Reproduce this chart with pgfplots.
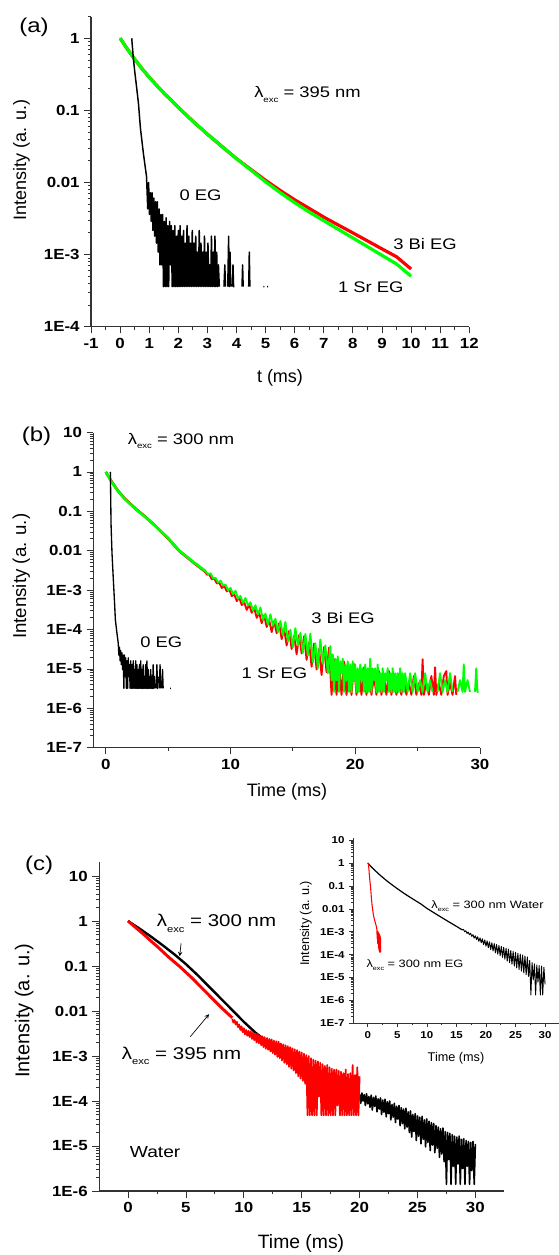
\documentclass[border=0pt]{standalone}
\usepackage{fontspec}
\setmainfont{Liberation Sans}
\newfontfamily\annot[FakeStretch=1.2]{Liberation Sans}
\newfontfamily\tickf[FakeStretch=1.15]{Liberation Sans}
\usepackage{pgfplots}
\pgfplotsset{compat=1.18}

\newcommand{\fs}[1]{\fontsize{#1}{#1}\selectfont}
% lambda with the small, lowered "exc" subscript
\newcommand{\lexc}[2]{λ\raisebox{-#2}{\fs{#1}exc}}

\pgfplotsset{every axis/.append style={scale only axis, anchor=south west,
    axis lines=left, axis line style={-, line width=0.8pt, black!80},
    tick align=outside, major tick length=5pt, minor tick length=2.5pt,
    tick style={black!80, line width=0.6pt},
    enlargelimits=false, clip=false, unbounded coords=jump,
    tick label style={font=\tickf\fs{11}\bfseries}}}

\begin{document}
\begin{tikzpicture}
\useasboundingbox (0,0) rectangle (419.25pt,-941.25pt);

% ---------------- (a) lambda_exc = 395 nm ----------------
\begin{semilogyaxis}[at={(68.25pt,-245.03pt)}, width=283.7pt, height=232.6pt,
  xmin=-1, xmax=12, ymin=1e-4, ymax=2,
  xtick={-1,0,...,12}, xticklabels={-1,0,1,2,3,4,5,6,7,8,9,10,11,12},
  minor x tick num=1,
  ytick={1e-4,1e-3,0.01,0.1,1}, yticklabels={1E-4,1E-3,0.01,0.1,1},
  minor ytick={2e-4,3e-4,4e-4,5e-4,6e-4,7e-4,8e-4,9e-4,2e-3,3e-3,4e-3,5e-3,6e-3,7e-3,8e-3,9e-3,0.02,0.03,0.04,0.05,0.06,0.07,0.08,0.09,0.2,0.3,0.4,0.5,0.6,0.7,0.8,0.9,2}]
\addplot[red, line width=2.4pt, line join=round] coordinates {
  (0,1)(0.25,0.708)(0.5,0.513)(0.75,0.380)(1,0.288)(1.5,0.174)(2,0.110)
  (2.5,0.0708)(3,0.0468)(3.5,0.0316)(4,0.0214)(4.5,0.0151)(5,0.0107)
  (5.5,0.00776)(6,0.00575)(6.5,0.00437)(7,0.00331)(7.5,0.00257)(8,0.00200)
  (8.5,0.00155)(9,0.00120)(9.5,0.000933)(10,0.000631)};
\addplot[green, line width=2.4pt, line join=round] coordinates {
  (0,1)(0.25,0.708)(0.5,0.513)(0.75,0.380)(1,0.288)(1.5,0.174)(2,0.110)
  (2.5,0.0708)(3,0.0468)(3.5,0.0316)(4,0.0214)(4.5,0.0148)(5,0.0102)
  (5.5,0.00724)(6,0.00525)(6.5,0.00389)(7,0.00295)(7.5,0.00224)(8,0.00170)
  (8.5,0.00129)(9,0.000977)(9.5,0.000741)(10,0.000501)};
\addplot[black, line width=1.1pt, line join=round] coordinates {
  (0.40,1)(0.45,0.556)(0.50,0.355)(0.55,0.240)(0.63,0.126)(0.70,0.056)
  (0.80,0.0254)(0.85,0.018)(0.91,0.012)
  (0.92,9e-3)(0.95,4.3e-3)(0.98,1.0e-2)(1.01,3.6e-3)(1.04,7.2e-3)(1.07,2.88e-3)
  (1.10,7.2e-3)(1.13,2.16e-3)(1.16,6.1e-3)(1.19,1.8e-3)(1.22,5.4e-3)(1.25,1.44e-3)
  (1.28,5.4e-3)(1.31,1.08e-3)(1.34,4.3e-3)(1.37,7.2e-4)(1.40,3.6e-3)(1.43,7.2e-4)
  (1.46,3.6e-3)(1.49,3.6e-4)(1.52,2.88e-3)(1.55,3.6e-4)(1.58,3.24e-3)(1.61,3.6e-4)
  (1.64,2.52e-3)(1.67,3.6e-4)(1.70,2.88e-3)(1.73,7.2e-4)(1.76,2.52e-3)(1.79,3.6e-4)
  (1.82,2.16e-3)(1.85,3.6e-4)(1.88,2.52e-3)(1.91,3.6e-4)(1.94,1.8e-3)(1.97,3.6e-4)
  (2.00,2.16e-3)(2.03,3.6e-4)(2.06,2.52e-3)(2.09,3.6e-4)(2.12,1.8e-3)(2.15,3.6e-4)
  (2.18,2.16e-3)(2.21,3.6e-4)(2.24,1.44e-3)(2.27,3.6e-4)(2.30,2.52e-3)(2.33,3.6e-4)
  (2.36,1.8e-3)(2.39,3.6e-4)(2.42,1.44e-3)(2.45,3.6e-4)(2.48,2.16e-3)(2.51,3.6e-4)
  (2.54,1.44e-3)(2.57,3.6e-4)(2.60,1.8e-3)(2.63,3.6e-4)(2.66,1.08e-3)(2.69,3.6e-4)
  (2.72,2.16e-3)(2.75,3.6e-4)(2.78,1.44e-3)(2.81,3.6e-4)(2.84,1.08e-3)(2.87,3.6e-4)
  (2.90,1.8e-3)(2.93,3.6e-4)(2.96,1.08e-3)(2.99,3.6e-4)(3.02,1.44e-3)(3.05,3.6e-4)
  (3.08,7.2e-4)(3.11,3.6e-4)(3.14,1.8e-3)(3.17,3.6e-4)(3.20,1.08e-3)(3.23,3.6e-4)
  (3.26,1.8e-3)(3.29,3.6e-4)(3.32,1.08e-3)(3.35,3.6e-4)(3.38,7.2e-4)(3.41,3.6e-4)
  (3.44,nan)(3.57,3.6e-4)(3.60,7.2e-4)(3.62,3.6e-4)(3.64,nan)
  (3.70,3.6e-4)(3.73,1.8e-3)(3.75,3.6e-4)(3.78,1.08e-3)(3.80,3.6e-4)(3.82,nan)
  (3.86,3.6e-4)(3.88,7.2e-4)(3.90,3.6e-4)(3.93,3.6e-4)(3.95,nan)
  (4.19,3.6e-4)(4.21,7.2e-4)(4.23,3.6e-4)(4.25,nan)
  (4.42,3.6e-4)(4.44,1.08e-3)(4.46,3.6e-4)(4.48,nan)
  (4.92,3.6e-4)(4.96,3.6e-4)(4.98,nan)(5.05,3.6e-4)(5.09,3.6e-4)};
\node[anchor=base west, font=\annot\fs{11.5}] at (axis cs:4.45,0.15) {\lexc{6}{3.4pt} = 395 nm};
\node[anchor=base west, font=\annot\fs{11.5}] at (axis cs:1.88,5.6e-3) {0 EG};
\node[anchor=base west, font=\annot\fs{11.5}] at (axis cs:9.23,1.16e-3) {3 Bi EG};
\node[anchor=base west, font=\annot\fs{11.5}] at (axis cs:7.33,2.96e-4) {1 Sr EG};
\end{semilogyaxis}
\node[font=\annot\fs{15}] at (25.5pt,-20.25pt) {(a)};
\node[font=\fs{13.5}, rotate=90] at (16.05pt,-120pt) {Intensity (a. u.)};
\node[font=\fs{13.5}] at (210pt,-283.5pt) {t (ms)};

% ---------------- (b) lambda_exc = 300 nm ----------------
\begin{semilogyaxis}[at={(69.98pt,-560.78pt)}, width=290pt, height=236.4pt,
  xmin=-1, xmax=30, ymin=1e-7, ymax=10,
  xtick={0,10,20,30}, xticklabels={0,10,20,30}, minor x tick num=1,
  ytick={1e-7,1e-6,1e-5,1e-4,1e-3,0.01,0.1,1,10},
  yticklabels={1E-7,1E-6,1E-5,1E-4,1E-3,0.01,0.1,1,10},
  minor ytick={2e-7,3e-7,4e-7,5e-7,6e-7,7e-7,8e-7,9e-7,2e-6,3e-6,4e-6,5e-6,6e-6,7e-6,8e-6,9e-6,2e-5,3e-5,4e-5,5e-5,6e-5,7e-5,8e-5,9e-5,2e-4,3e-4,4e-4,5e-4,6e-4,7e-4,8e-4,9e-4,2e-3,3e-3,4e-3,5e-3,6e-3,7e-3,8e-3,9e-3,0.02,0.03,0.04,0.05,0.06,0.07,0.08,0.09,0.2,0.3,0.4,0.5,0.6,0.7,0.8,0.9,2,3,4,5,6,7,8,9}]
\addplot[red, line width=2pt, line join=round] coordinates {
  (0,1)(0.25,0.74)(0.5,0.55)(1,0.325)(1.5,0.215)(2,0.152)(2.6,0.102)(3,0.081)
  (4,0.042)(5,0.0204)(5.9,0.0098)(7,0.0051)(8,0.0029)};
\addplot[red, line width=1.4pt, line join=round] coordinates {
  (8.0,2.9e-3)(8.1,2.47e-3)(8.3,2.51e-3)(8.5,1.88e-3)(8.7,2.0e-3)(8.9,1.48e-3)
  (9.1,1.54e-3)(9.3,1.13e-3)(9.5,1.28e-3)(9.7,9.3e-4)(9.9,1.04e-3)(10.1,7.05e-4)
  (10.3,7.9e-4)(10.5,5.25e-4)(10.7,6.5e-4)(10.9,4.17e-4)(11.1,4.93e-4)(11.3,3.15e-4)
  (11.5,4.26e-4)(11.7,2.66e-4)(11.9,3.54e-4)(12.1,1.98e-4)(12.3,2.67e-4)(12.5,1.45e-4)
  (12.7,2.27e-4)(12.9,1.16e-4)(13.1,1.74e-4)(13.3,8.6e-5)(13.5,1.63e-4)(13.7,8.0e-5)
  (13.9,1.44e-4)(14.1,5.7e-5)(14.3,1.04e-4)(14.5,3.94e-5)(14.7,9.2e-5)(14.9,3.2e-5)
  (15.1,6.9e-5)(15.3,2.36e-5)(15.5,7.2e-5)(15.7,2.47e-5)(15.9,6.8e-5)(16.1,1.7e-5)
  (16.3,4.7e-5)(16.5,1.14e-5)(16.7,4.4e-5)(16.9,9.7e-6)(17.1,3.2e-5)(17.3,7.0e-6)
  (17.5,3.6e-5)(17.7,8.3e-6)(17.9,3.47e-5)(18.1,2.2e-6)
  (18.3,1.76e-5)(18.5,2.2e-6)(18.7,1.32e-5)(18.9,2.2e-6)(19.1,1.54e-5)(19.3,2.2e-6)
  (19.5,1.1e-5)(19.7,2.2e-6)(19.9,1.32e-5)(20.1,2.2e-6)(20.3,8.8e-6)(20.5,2.2e-6)
  (20.7,1.1e-5)(20.9,2.2e-6)(21.1,8.8e-6)(21.3,2.2e-6)(21.5,6.6e-6)(21.7,2.2e-6)
  (21.9,8.8e-6)(22.1,2.2e-6)(22.3,6.6e-6)(22.5,2.2e-6)(22.7,8.8e-6)(22.9,2.2e-6)
  (23.1,6.6e-6)(23.3,2.2e-6)(23.5,4.4e-6)(23.7,2.2e-6)(23.9,6.6e-6)(24.1,2.2e-6)
  (24.3,4.4e-6)(24.5,2.2e-6)(24.7,6.6e-6)(24.9,2.2e-6)(25.1,4.4e-6)(25.3,2.2e-6)
  (25.4,1.76e-5)(25.5,2.2e-6)(25.7,4.4e-6)(25.9,2.2e-6)(26.1,6.6e-6)(26.3,2.2e-6)
  (26.4,1.1e-5)(26.5,2.2e-6)(26.7,4.4e-6)(26.9,2.2e-6)(27.1,6.6e-6)(27.3,8.8e-6)
  (27.4,2.2e-6)(27.6,4.4e-6)(27.8,2.2e-6)(28.0,6.6e-6)(28.1,2.2e-6)};
\addplot[green, line width=2pt, line join=round] coordinates {
  (0,1)(0.25,0.724)(0.5,0.537)(1,0.316)(1.5,0.209)(2,0.148)(2.6,0.1)(3,0.0794)
  (4,0.0417)(5,0.0209)(5.9,0.01)(7,0.00525)(8,0.00302)};
\addplot[green, line width=1.4pt, line join=round] coordinates {
  (8.0,3.02e-3)(8.2,2.53e-3)(8.4,2.68e-3)(8.6,1.97e-3)(8.8,2.05e-3)(9.0,1.55e-3)
  (9.2,1.74e-3)(9.4,1.30e-3)(9.6,1.38e-3)(9.8,9.9e-4)(10.0,1.14e-3)(10.2,7.9e-4)
  (10.4,9.6e-4)(10.6,6.05e-4)(10.8,7.1e-4)(11.0,4.68e-4)(11.2,6.28e-4)(11.4,4.1e-4)
  (11.6,4.92e-4)(11.8,3.0e-4)(12.0,4.13e-4)(12.2,2.41e-4)(12.4,3.63e-4)(12.6,1.76e-4)
  (12.8,2.54e-4)(13.0,1.32e-4)(13.2,2.44e-4)(13.4,1.25e-4)(13.6,1.88e-4)(13.8,8.6e-5)
  (14.0,1.65e-4)(14.2,7.1e-5)(14.4,1.56e-4)(14.6,4.9e-5)(14.8,9.9e-5)(15.0,3.55e-5)
  (15.2,1.08e-4)(15.4,3.92e-5)(15.6,8.2e-5)(15.8,2.55e-5)(16.0,7.7e-5)(16.2,2.18e-5)
  (16.4,7.9e-5)(16.6,1.46e-5)(16.8,4.5e-5)(17.0,1.05e-5)(17.2,5.6e-5)(17.4,1.35e-5)
  (17.6,3.98e-5)(17.8,7.8e-6)(18.0,3.8e-5)
  (18.1,5.2e-6)(18.2,2.34e-5)(18.3,2.6e-6)(18.4,1.82e-5)(18.5,5.2e-6)(18.6,2.08e-5)
  (18.7,2.6e-6)(18.8,1.56e-5)(18.9,7.8e-6)(19.0,1.82e-5)(19.1,2.6e-6)(19.2,1.3e-5)
  (19.3,5.2e-6)(19.4,1.56e-5)(19.5,2.6e-6)(19.6,1.3e-5)(19.7,2.6e-6)(19.8,1.56e-5)
  (19.9,5.2e-6)(20.0,1.3e-5)(20.1,2.6e-6)(20.2,1.04e-5)(20.3,2.6e-6)(20.4,1.3e-5)
  (20.5,5.2e-6)(20.6,1.04e-5)(20.7,2.6e-6)(20.8,1.3e-5)(20.9,2.6e-6)(21.0,1.04e-5)
  (21.1,2.6e-6)(21.2,1.82e-5)(21.3,2.6e-6)(21.4,1.04e-5)(21.5,5.2e-6)(21.6,1.04e-5)
  (21.7,2.6e-6)(21.8,1.3e-5)(21.9,2.6e-6)(22.0,7.8e-6)(22.1,2.6e-6)(22.2,1.04e-5)
  (22.3,2.6e-6)(22.4,7.8e-6)(22.5,5.2e-6)(22.6,1.04e-5)(22.7,2.6e-6)(22.8,7.8e-6)
  (22.9,2.6e-6)(23.0,1.04e-5)(23.1,2.6e-6)(23.2,7.8e-6)(23.3,2.6e-6)(23.4,7.8e-6)
  (23.5,2.6e-6)(23.6,1.04e-5)(23.7,2.6e-6)(23.8,7.8e-6)(23.9,2.6e-6)(24.0,7.8e-6)
  (24.2,2.6e-6)(24.4,7.8e-6)(24.6,2.6e-6)(24.8,7.8e-6)(25.0,2.6e-6)(25.2,5.2e-6)
  (25.4,2.6e-6)(25.6,7.8e-6)(25.8,2.6e-6)(26.0,5.2e-6)(26.2,2.6e-6)(26.4,nan)
  (26.6,2.6e-6)(26.8,7.8e-6)(27.0,2.6e-6)(27.2,5.2e-6)(27.4,2.6e-6)(27.6,7.8e-6)
  (27.8,2.6e-6)(28.0,nan)(28.2,2.6e-6)(28.4,5.2e-6)(28.6,2.6e-6)(28.7,1.3e-5)
  (28.8,2.6e-6)(29.0,5.2e-6)(29.2,2.6e-6)(29.4,nan)(29.6,2.6e-6)(29.7,1.04e-5)
  (29.8,2.6e-6)(29.9,2.6e-6)};
\addplot[black, line width=1pt, line join=round] coordinates {
  (0.37,1)(0.42,0.05)(0.46,0.02)(0.5,0.0085)(0.6,2.0e-3)(0.7,5.0e-4)(0.77,1.74e-4)
  (0.9,7.9e-5)(1.0,4.5e-5)
  (1.05,2.24e-5)(1.10,3.52e-5)(1.15,1.6e-5)(1.20,2.88e-5)(1.25,1.28e-5)(1.30,2.56e-5)
  (1.35,9.6e-6)(1.40,2.24e-5)(1.45,3.2e-6)(1.50,2.24e-5)(1.55,6.4e-6)(1.60,1.92e-5)
  (1.65,3.2e-6)(1.70,1.6e-5)(1.75,3.2e-6)(1.80,1.92e-5)(1.85,6.4e-6)(1.90,1.28e-5)
  (1.95,3.2e-6)(2.00,1.6e-5)(2.05,3.2e-6)(2.10,1.28e-5)(2.15,3.2e-6)(2.20,1.6e-5)
  (2.25,3.2e-6)(2.30,9.6e-6)(2.35,3.2e-6)(2.40,1.6e-5)(2.45,3.2e-6)(2.50,1.28e-5)
  (2.55,3.2e-6)(2.60,9.6e-6)(2.65,3.2e-6)(2.70,1.28e-5)(2.75,3.2e-6)(2.80,1.6e-5)
  (2.85,3.2e-6)(2.90,9.6e-6)(2.95,3.2e-6)(3.00,1.28e-5)(3.05,3.2e-6)(3.10,6.4e-6)
  (3.15,3.2e-6)(3.20,1.28e-5)(3.25,3.2e-6)(3.30,1.6e-5)(3.35,3.2e-6)(3.40,9.6e-6)
  (3.45,3.2e-6)(3.50,6.4e-6)(3.55,3.2e-6)(3.60,9.6e-6)(3.65,3.2e-6)(3.70,6.4e-6)
  (3.75,3.2e-6)(3.80,1.28e-5)(3.85,3.2e-6)(3.90,6.4e-6)(3.95,3.2e-6)(4.00,nan)
  (4.05,3.2e-6)(4.10,1.28e-5)(4.15,3.2e-6)(4.20,6.4e-6)(4.25,nan)(4.30,3.2e-6)
  (4.35,1.28e-5)(4.40,3.2e-6)(4.45,nan)(4.50,3.2e-6)(4.55,9.6e-6)(4.60,3.2e-6)
  (4.65,nan)(5.15,3.2e-6)(5.22,3.2e-6)};
\node[anchor=base west, font=\annot\fs{11.5}] at (axis cs:1.39,5.0) {\lexc{6}{3.4pt} = 300 nm};
\node[anchor=base west, font=\annot\fs{11.5}] at (axis cs:2.39,3.53e-5) {0 EG};
\node[anchor=base west, font=\annot\fs{11.5}] at (axis cs:16.1,1.44e-4) {3 Bi EG};
\node[anchor=base west, font=\annot\fs{11.5}] at (axis cs:10.52,5.77e-6) {1 Sr EG};
\end{semilogyaxis}
\node[font=\annot\fs{15}] at (27.4pt,-327.5pt) {(b)};
\node[font=\fs{14}, rotate=90] at (16.05pt,-432.2pt) {Intensity (a. u.)};
\node[font=\fs{13.5}] at (215.25pt,-593.8pt) {Time (ms)};

% ---------------- (c) water ----------------
\begin{semilogyaxis}[at={(74.33pt,-893.25pt)}, width=303.9pt, height=246.4pt,
  xmin=-2.5, xmax=32.5, ymin=1e-6, ymax=20,
  xtick={0,5,...,30}, xticklabels={0,5,10,15,20,25,30}, minor x tick num=1,
  ytick={1e-6,1e-5,1e-4,1e-3,0.01,0.1,1,10},
  yticklabels={1E-6,1E-5,1E-4,1E-3,0.01,0.1,1,10},
  minor ytick={2e-6,3e-6,4e-6,5e-6,6e-6,7e-6,8e-6,9e-6,2e-5,3e-5,4e-5,5e-5,6e-5,7e-5,8e-5,9e-5,2e-4,3e-4,4e-4,5e-4,6e-4,7e-4,8e-4,9e-4,2e-3,3e-3,4e-3,5e-3,6e-3,7e-3,8e-3,9e-3,0.02,0.03,0.04,0.05,0.06,0.07,0.08,0.09,0.2,0.3,0.4,0.5,0.6,0.7,0.8,0.9,2,3,4,5,6,7,8,9}]
\addplot[black, line width=1.8pt, line join=round] coordinates {
  (0,1)(1,0.676)(2,0.447)(3,0.288)(4,0.182)(5,0.110)(6,0.0631)(7,0.0347)
  (8,0.0191)(9,0.0105)(10,0.00575)(11,0.00331)(12,0.00209)};
\addplot[black, line width=1.2pt, line join=round] coordinates {
  (12,2.09e-3)(12.25,1.66e-3)(12.5,1.62e-3)(12.75,1.35e-3)(13,1.32e-3)(13.5,1.02e-3)
  (14,9.12e-4)(14.5,7.08e-4)(15,6.46e-4)(15.5,5.01e-4)(16,4.57e-4)(16.5,3.55e-4)
  (17,3.24e-4)(17.5,2.51e-4)(18,2.29e-4)(18.5,1.78e-4)(19,1.62e-4)(19.5,1.26e-4)
  (19.8,1.41e-4)
  (20.0,1.41e-4)(20.1,8.91e-5)(20.2,1.51e-4)(20.3,1.0e-4)(20.4,1.38e-4)(20.5,7.94e-5)
  (20.6,1.45e-4)(20.7,8.71e-5)(20.8,1.26e-4)(20.9,7.24e-5)(21.0,1.35e-4)(21.1,6.31e-5)
  (21.2,1.20e-4)(21.3,7.59e-5)(21.4,1.29e-4)(21.5,5.75e-5)(21.6,1.12e-4)(21.7,6.61e-5)
  (21.8,1.17e-4)(21.9,5.01e-5)(22.0,1.05e-4)(22.1,5.62e-5)(22.2,1.10e-4)(22.3,4.47e-5)
  (22.4,9.55e-5)(22.5,5.25e-5)(22.6,1.0e-4)(22.7,3.80e-5)(22.8,8.32e-5)(22.9,4.37e-5)
  (23.0,8.91e-5)(23.1,3.31e-5)(23.2,7.59e-5)(23.3,3.98e-5)(23.4,7.94e-5)(23.5,2.82e-5)
  (23.6,7.08e-5)(23.7,3.16e-5)(23.8,6.61e-5)(23.9,2.40e-5)(24.0,6.92e-5)(24.1,2.63e-5)
  (24.2,5.75e-5)(24.3,2.0e-5)(24.4,6.03e-5)(24.5,1.58e-5)(24.6,5.01e-5)(24.7,2.09e-5)
  (24.8,5.25e-5)(24.9,1.32e-5)(25.0,4.68e-5)(25.1,1.66e-5)(25.2,4.37e-5)(25.3,1.12e-5)
  (25.4,4.57e-5)(25.5,1.41e-5)(25.6,3.80e-5)(25.7,9.55e-6)(25.8,3.98e-5)(25.9,1.20e-5)
  (26.0,3.55e-5)(26.1,7.94e-6)(26.2,3.31e-5)(26.3,1.05e-5)(26.4,3.16e-5)(26.5,7.08e-6)
  (26.6,2.82e-5)(26.7,8.91e-6)(26.8,2.63e-5)(26.9,5.62e-6)(27.0,2.40e-5)(27.1,6.61e-6)
  (27.2,2.51e-5)(27.3,4.47e-6)(27.4,2.09e-5)(27.5,1.41e-6)(27.6,2.0e-5)(27.7,5.01e-6)
  (27.8,1.91e-5)(27.9,1.41e-6)(28.0,1.78e-5)(28.1,3.55e-6)(28.2,1.66e-5)(28.3,1.41e-6)
  (28.4,1.58e-5)(28.5,3.98e-6)(28.6,1.66e-5)(28.7,1.41e-6)(28.8,1.41e-5)(28.9,3.16e-6)
  (29.0,1.45e-5)(29.1,1.41e-6)(29.2,1.32e-5)(29.3,3.55e-6)(29.4,1.26e-5)(29.5,1.41e-6)
  (29.6,1.20e-5)(29.7,2.82e-6)(29.8,1.26e-5)(29.9,1.41e-6)(30.0,1.12e-5)};
\addplot[red, line width=2.2pt, line join=round] coordinates {
  (0,1)(0.5,0.776)(1,0.603)(1.5,0.468)(2,0.355)(2.5,0.275)(3,0.209)(3.5,0.158)
  (4,0.123)(4.5,0.0955)(5,0.0724)(5.5,0.0550)(6,0.0407)(6.5,0.0302)(7,0.0224)
  (7.5,0.0166)(8,0.0123)(8.5,0.00933)(9,0.00708)};
\addplot[red, line width=1.3pt, line join=round] coordinates {
  (9.0,6.76e-3)(9.1,5.5e-3)(9.2,6.31e-3)(9.3,5.01e-3)(9.4,5.75e-3)(9.5,4.37e-3)
  (9.6,5.01e-3)(9.7,3.80e-3)(9.8,4.57e-3)(9.9,3.39e-3)(10.0,4.17e-3)(10.1,3.02e-3)
  (10.2,3.80e-3)(10.3,2.82e-3)(10.4,3.63e-3)(10.5,2.63e-3)(10.6,3.55e-3)(10.7,2.40e-3)
  (10.8,3.31e-3)(10.9,2.24e-3)(11.0,3.16e-3)(11.1,2.0e-3)(11.2,3.09e-3)(11.3,1.91e-3)
  (11.4,2.82e-3)(11.5,1.74e-3)(11.6,2.75e-3)(11.7,1.58e-3)(11.8,2.63e-3)(11.9,1.45e-3)
  (12.0,2.51e-3)(12.1,1.38e-3)(12.2,2.40e-3)(12.3,1.26e-3)(12.4,2.34e-3)(12.5,1.15e-3)
  (12.6,2.19e-3)(12.7,1.07e-3)(12.8,2.14e-3)(12.9,9.55e-4)(13.0,2.09e-3)(13.1,8.91e-4)
  (13.2,1.91e-3)(13.3,7.94e-4)(13.4,1.82e-3)(13.5,7.08e-4)(13.6,1.74e-3)(13.7,6.61e-4)
  (13.8,1.66e-3)(13.9,5.75e-4)(14.0,1.58e-3)(14.1,5.25e-4)(14.2,1.48e-3)(14.3,4.79e-4)
  (14.4,1.41e-3)(14.5,4.17e-4)(14.6,1.35e-3)(14.7,3.55e-4)(14.8,1.26e-3)(14.9,3.16e-4)
  (15.0,1.20e-3)(15.1,2.82e-4)(15.2,1.12e-3)(15.3,2.40e-4)(15.4,1.05e-3)(15.5,4.8e-5)
  (15.6,1.0e-3)(15.7,4.8e-5)(15.8,8.91e-4)(15.9,4.8e-5)(16.0,8.32e-4)(16.1,4.8e-5)
  (16.2,7.94e-4)(16.3,4.8e-5)(16.4,7.59e-4)(16.5,1.26e-4)(16.6,7.08e-4)(16.7,4.8e-5)
  (16.8,6.61e-4)(16.9,4.8e-5)(17.0,6.03e-4)(17.1,4.8e-5)(17.2,6.31e-4)(17.3,4.8e-5)
  (17.4,5.62e-4)(17.5,4.8e-5)(17.6,5.25e-4)(17.7,4.8e-5)(17.8,5.01e-4)(17.9,4.8e-5)
  (18.0,5.01e-4)(18.1,7.94e-5)(18.2,4.68e-4)(18.3,4.8e-5)(18.4,4.47e-4)(18.5,4.8e-5)
  (18.6,4.17e-4)(18.7,4.8e-5)(18.8,5.01e-4)(18.9,4.8e-5)(19.0,3.98e-4)(19.1,4.8e-5)
  (19.2,4.17e-4)(19.3,4.8e-5)(19.4,6.31e-4)(19.5,4.8e-5)(19.6,3.80e-4)(19.7,4.8e-5)
  (19.8,5.62e-4)(19.9,4.8e-5)(20.0,3.55e-4)};
\node[anchor=base west, font=\annot\fs{12.8}] at (axis cs:2.08,0.746) {\lexc{7}{4pt} = 300 nm};
\node[anchor=base west, font=\annot\fs{12.8}] at (axis cs:-0.94,8.5e-4) {\lexc{7}{4pt} = 395 nm};
\node[anchor=base west, font=\annot\fs{12}] at (axis cs:-0.25,5.7e-6) {Water};
\draw[-stealth, line width=0.5pt] (axis cs:4.58,0.32) -- (axis cs:4.46,0.165);
\draw[-stealth, line width=0.5pt] (axis cs:5.38,2.7e-3) -- (axis cs:7.0,8.5e-3);
\end{semilogyaxis}
\node[font=\annot\fs{15}] at (29.25pt,-648.75pt) {(c)};
\node[font=\fs{15}, rotate=90] at (18.15pt,-758pt) {Intensity (a. u.)};
\node[font=\fs{14.5}] at (225.75pt,-932.25pt) {Time (ms)};

% ---------------- inset ----------------
\begin{semilogyaxis}[at={(264.7pt,-767.5pt)}, width=154.3pt, height=138.8pt,
  xmin=-2.5, xmax=32.3, ymin=1e-7, ymax=12,
  major tick length=2.8pt, minor tick length=1.5pt,
  tick style={black!80, line width=0.45pt},
  axis line style={-, line width=0.6pt, black!80},
  tick label style={font=\tickf\fs{7.5}\bfseries},
  xtick={0,5,...,30}, xticklabels={0,5,10,15,20,25,30}, minor x tick num=1,
  ytick={1e-7,1e-6,1e-5,1e-4,1e-3,0.01,0.1,1,10},
  yticklabels={1E-7,1E-6,1E-5,1E-4,1E-3,0.01,0.1,1,10},
  minor ytick={2e-7,3e-7,4e-7,5e-7,6e-7,7e-7,8e-7,9e-7,2e-6,3e-6,4e-6,5e-6,6e-6,7e-6,8e-6,9e-6,2e-5,3e-5,4e-5,5e-5,6e-5,7e-5,8e-5,9e-5,2e-4,3e-4,4e-4,5e-4,6e-4,7e-4,8e-4,9e-4,2e-3,3e-3,4e-3,5e-3,6e-3,7e-3,8e-3,9e-3,0.02,0.03,0.04,0.05,0.06,0.07,0.08,0.09,0.2,0.3,0.4,0.5,0.6,0.7,0.8,0.9,2,3,4,5,6,7,8,9}]
\addplot[black, line width=0.9pt, line join=round] coordinates {
  (0,1)(1,0.537)(2,0.309)(3,0.186)(4,0.117)(5,0.0759)(6,0.0501)(7,0.0339)
  (8,0.0234)(9,0.0162)(10,0.0105)(11,7.24e-3)(12,5.01e-3)(13,3.5e-3)(14,2.45e-3)
  (15,1.72e-3)(16,1.2e-3)};
\addplot[black, line width=0.7pt, line join=round] coordinates {
  (16,1.2e-3)(16.2,1.26e-3)(16.4,1.0e-3)(16.6,1.10e-3)(16.8,8.51e-4)(17.0,9.55e-4)
  (17.2,7.41e-4)(17.4,8.51e-4)(17.6,6.31e-4)(17.8,7.41e-4)(18.0,5.25e-4)(18.2,6.61e-4)
  (18.4,4.57e-4)(18.6,6.03e-4)(18.8,3.80e-4)(19.0,5.37e-4)(19.2,3.31e-4)(19.4,4.90e-4)
  (19.6,2.75e-4)(19.8,4.37e-4)(20.0,2.34e-4)(20.2,3.98e-4)(20.4,2.0e-4)(20.6,3.63e-4)
  (20.8,1.66e-4)(21.0,3.31e-4)(21.2,1.45e-4)(21.4,3.02e-4)(21.6,1.20e-4)(21.8,2.75e-4)
  (22.0,1.05e-4)(22.2,2.51e-4)(22.4,8.91e-5)(22.6,2.29e-4)(22.8,7.59e-5)(23.0,2.09e-4)
  (23.2,6.31e-5)(23.4,1.91e-4)(23.6,5.25e-5)(23.8,1.74e-4)(24.0,4.47e-5)(24.2,1.51e-4)
  (24.4,3.80e-5)(24.6,1.38e-4)(24.8,3.16e-5)(25.0,1.26e-4)(25.2,2.63e-5)(25.4,1.15e-4)
  (25.6,2.24e-5)(25.8,1.05e-4)(26.0,1.91e-5)(26.2,9.55e-5)(26.4,1.58e-5)(26.6,8.71e-5)
  (26.8,1.32e-5)(27.0,7.94e-5)(27.2,1.12e-5)(27.4,5.62e-5)(27.6,1.74e-6)(27.8,4.47e-5)
  (28.0,7.94e-6)(28.2,3.98e-5)(28.4,1.74e-6)(28.6,3.55e-5)(28.8,6.31e-6)(29.0,3.31e-5)
  (29.2,1.74e-6)(29.4,3.16e-5)(29.6,1.74e-6)(29.8,2.82e-5)(30.0,5.01e-6)};
\addplot[red, line width=0.8pt, line join=round] coordinates {
  (0.11,1)(0.2,0.55)(0.28,0.29)(0.4,0.14)(0.5,0.078)(0.6,0.035)(0.73,0.0148)
  (0.9,7.0e-3)(1.07,4.0e-3)(1.3,2.4e-3)(1.52,1.48e-3)(1.55,1.2e-3)(1.6,5e-4)
  (1.65,1.1e-3)(1.7,3e-4)(1.75,1.0e-3)(1.8,2e-4)(1.85,9e-4)(1.9,1.6e-4)(1.95,8e-4)
  (2.0,1.3e-4)(2.05,7e-4)(2.1,1.26e-4)(2.15,6e-4)(2.2,1.3e-4)};
\node[anchor=base west, font=\annot\fs{8}] at (axis cs:9.98,0.0107) {\lexc{4.5}{2.3pt} = 300 nm Water};
\node[anchor=base west, font=\annot\fs{8}] at (axis cs:-1.0,2.88e-5) {\lexc{4.5}{2.3pt} = 300 nm EG};
\end{semilogyaxis}
\node[font=\fs{9.5}, rotate=90] at (229.4pt,-692.5pt) {Intensity (a. u.)};
\node[font=\fs{9.5}] at (342pt,-793.7pt) {Time (ms)};
\end{tikzpicture}
\end{document}
